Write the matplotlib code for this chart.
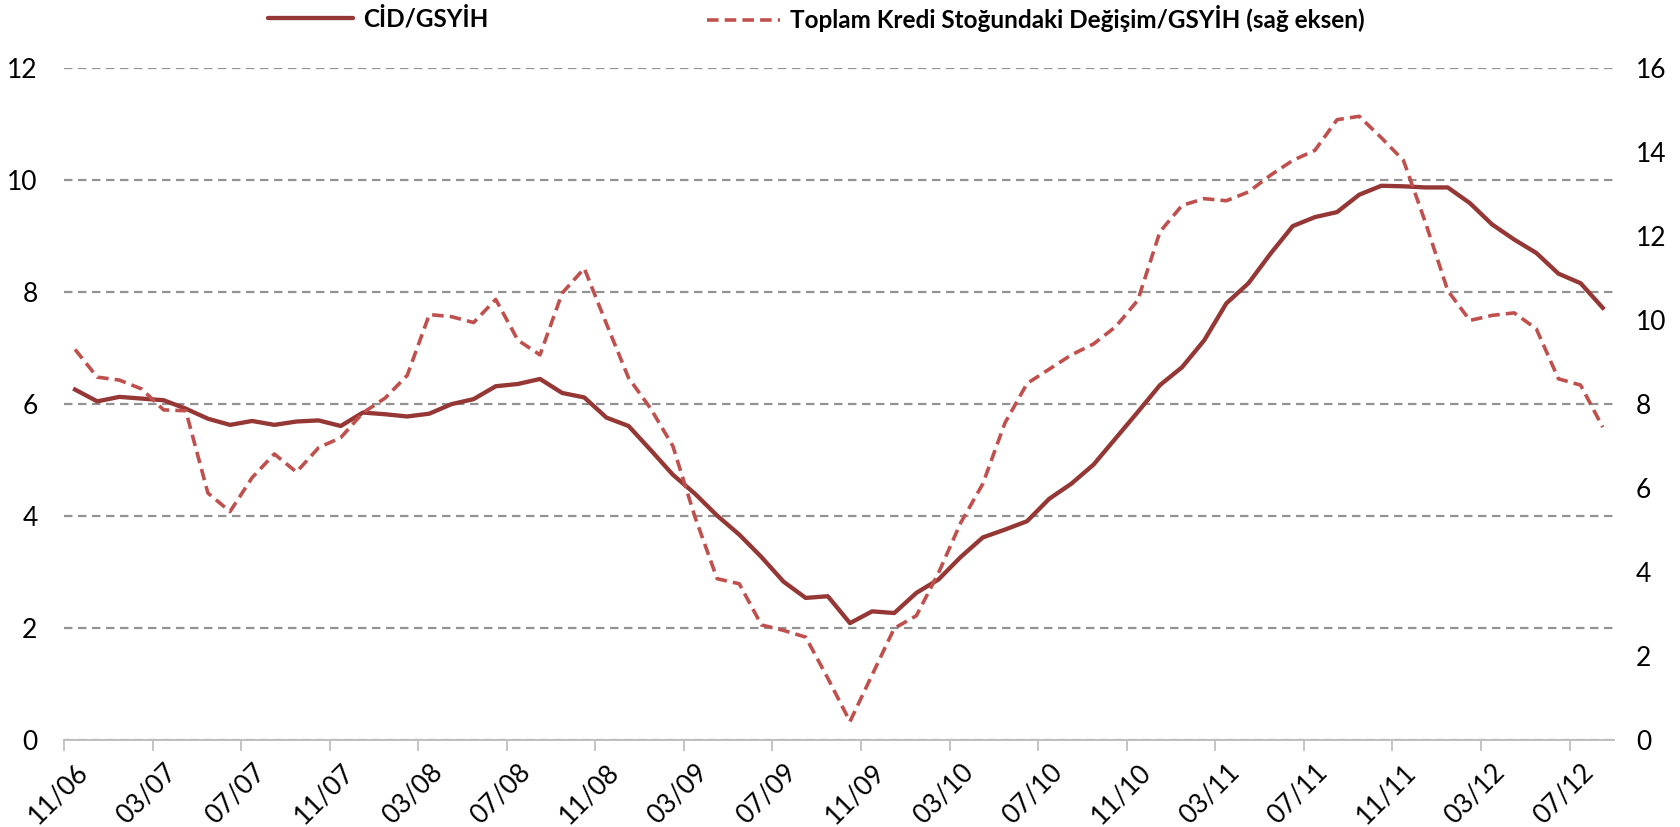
import matplotlib
matplotlib.use("Agg")
import matplotlib.pyplot as plt
from matplotlib.lines import Line2D
import numpy as np

plt.rcParams['font.family'] = ['Lato', 'DejaVu Sans']

# aylik veriler, 11/06 - 08/12
cid_gsyih = [6.25, 6.04, 6.12, 6.09, 6.06, 5.91, 5.73, 5.62, 5.69, 5.62,
             5.68, 5.70, 5.60, 5.84, 5.81, 5.77, 5.82, 5.99, 6.08, 6.31,
             6.35, 6.44, 6.19, 6.11, 5.75, 5.60, 5.17, 4.73, 4.39, 4.00,
             3.66, 3.26, 2.82, 2.53, 2.56, 2.08, 2.29, 2.26, 2.62, 2.86,
             3.26, 3.61, 3.75, 3.90, 4.30, 4.57, 4.91, 5.38, 5.85, 6.33,
             6.65, 7.13, 7.79, 8.15, 8.68, 9.17, 9.33, 9.42, 9.73, 9.89,
             9.88, 9.86, 9.86, 9.58, 9.20, 8.93, 8.69, 8.32, 8.15, 7.71]

kredi_gsyih = [9.29, 8.63, 8.56, 8.35, 7.85, 7.83, 5.87, 5.43, 6.24, 6.80,
               6.37, 6.95, 7.19, 7.78, 8.13, 8.67, 10.12, 10.07, 9.93, 10.48,
               9.51, 9.16, 10.63, 11.22, 9.90, 8.61, 7.88, 6.99, 5.30, 3.83,
               3.71, 2.73, 2.60, 2.44, 1.46, 0.43, 1.54, 2.65, 2.95, 3.97,
               5.16, 6.09, 7.54, 8.48, 8.82, 9.16, 9.42, 9.83, 10.46, 12.09,
               12.72, 12.88, 12.83, 13.04, 13.44, 13.79, 14.03, 14.76, 14.84, 14.33,
               13.79, 12.30, 10.69, 9.98, 10.10, 10.16, 9.78, 8.59, 8.44, 7.44]

tick_labels = ["11/06", "03/07", "07/07", "11/07", "03/08", "07/08", "11/08",
               "03/09", "07/09", "11/09", "03/10", "07/10", "11/10", "03/11",
               "07/11", "11/11", "03/12", "07/12"]

x = np.arange(len(cid_gsyih))

fig = plt.figure(figsize=(16.8, 8.27), dpi=100)
ax = fig.add_axes([64 / 1680, 1 - 739.6 / 827, (1613.8 - 64) / 1680, (739.6 - 67.6) / 827])
ax2 = ax.twinx()

# sol eksen
ax.plot(x, cid_gsyih, color='#953735', lw=3.1, solid_joinstyle='round', zorder=3)
# sag eksen
ax2.plot(x, kredi_gsyih, color='#C0504D', lw=2.6, dashes=(3.2, 1.7), zorder=3)

ax.set_ylim(0, 12)
ax.set_yticks(range(0, 13, 2))
ax2.set_ylim(0, 16)
ax2.set_yticks(range(0, 17, 2))
ax.set_xlim(-0.5, len(x) - 0.5)

ax.grid(axis='y', color='#929292', lw=1.6, dashes=(3.8, 2.5))
ax.set_axisbelow(True)

ax.set_xticks(x[::4], tick_labels, rotation=45, ha='right', rotation_mode='anchor')
ax.set_xticks(np.arange(-0.5, len(x), 4), minor=True)
ax.tick_params(axis='x', which='major', length=0, pad=14, labelsize=19)
ax.tick_params(axis='x', which='minor', length=8, color='#BFBFBF', width=1.3)
ax.tick_params(axis='y', length=0, pad=19, labelsize=19)
ax2.tick_params(axis='y', length=0, pad=16, labelsize=19)

for a in (ax, ax2):
    for s in ('top', 'left', 'right', 'bottom'):
        a.spines[s].set_visible(False)
ax.spines['bottom'].set_visible(True)
ax.spines['bottom'].set_color('#BFBFBF')
ax.spines['bottom'].set_linewidth(1.4)

# lejant
h1 = Line2D([], [], color='#953735', lw=3.1, solid_capstyle='round')
h2 = Line2D([], [], color='#C0504D', lw=2.6, dashes=(3.2, 1.7))
kw = dict(frameon=False, loc='center left', borderaxespad=0, borderpad=0,
          handletextpad=0.4, handlelength=3.5, prop={'weight': 'bold', 'size': 17.5})
fig.legend([h1], ['CİD/GSYİH'], bbox_to_anchor=(268 / 1680, 1 - 19 / 827), **kw)
kw['handlelength'] = 3.0
fig.legend([h2], ['Toplam Kredi Stoğundaki Değişim/GSYİH (sağ eksen)'],
           bbox_to_anchor=(707 / 1680, 1 - 19 / 827), **kw)

fig.savefig('out.png', dpi=100)
